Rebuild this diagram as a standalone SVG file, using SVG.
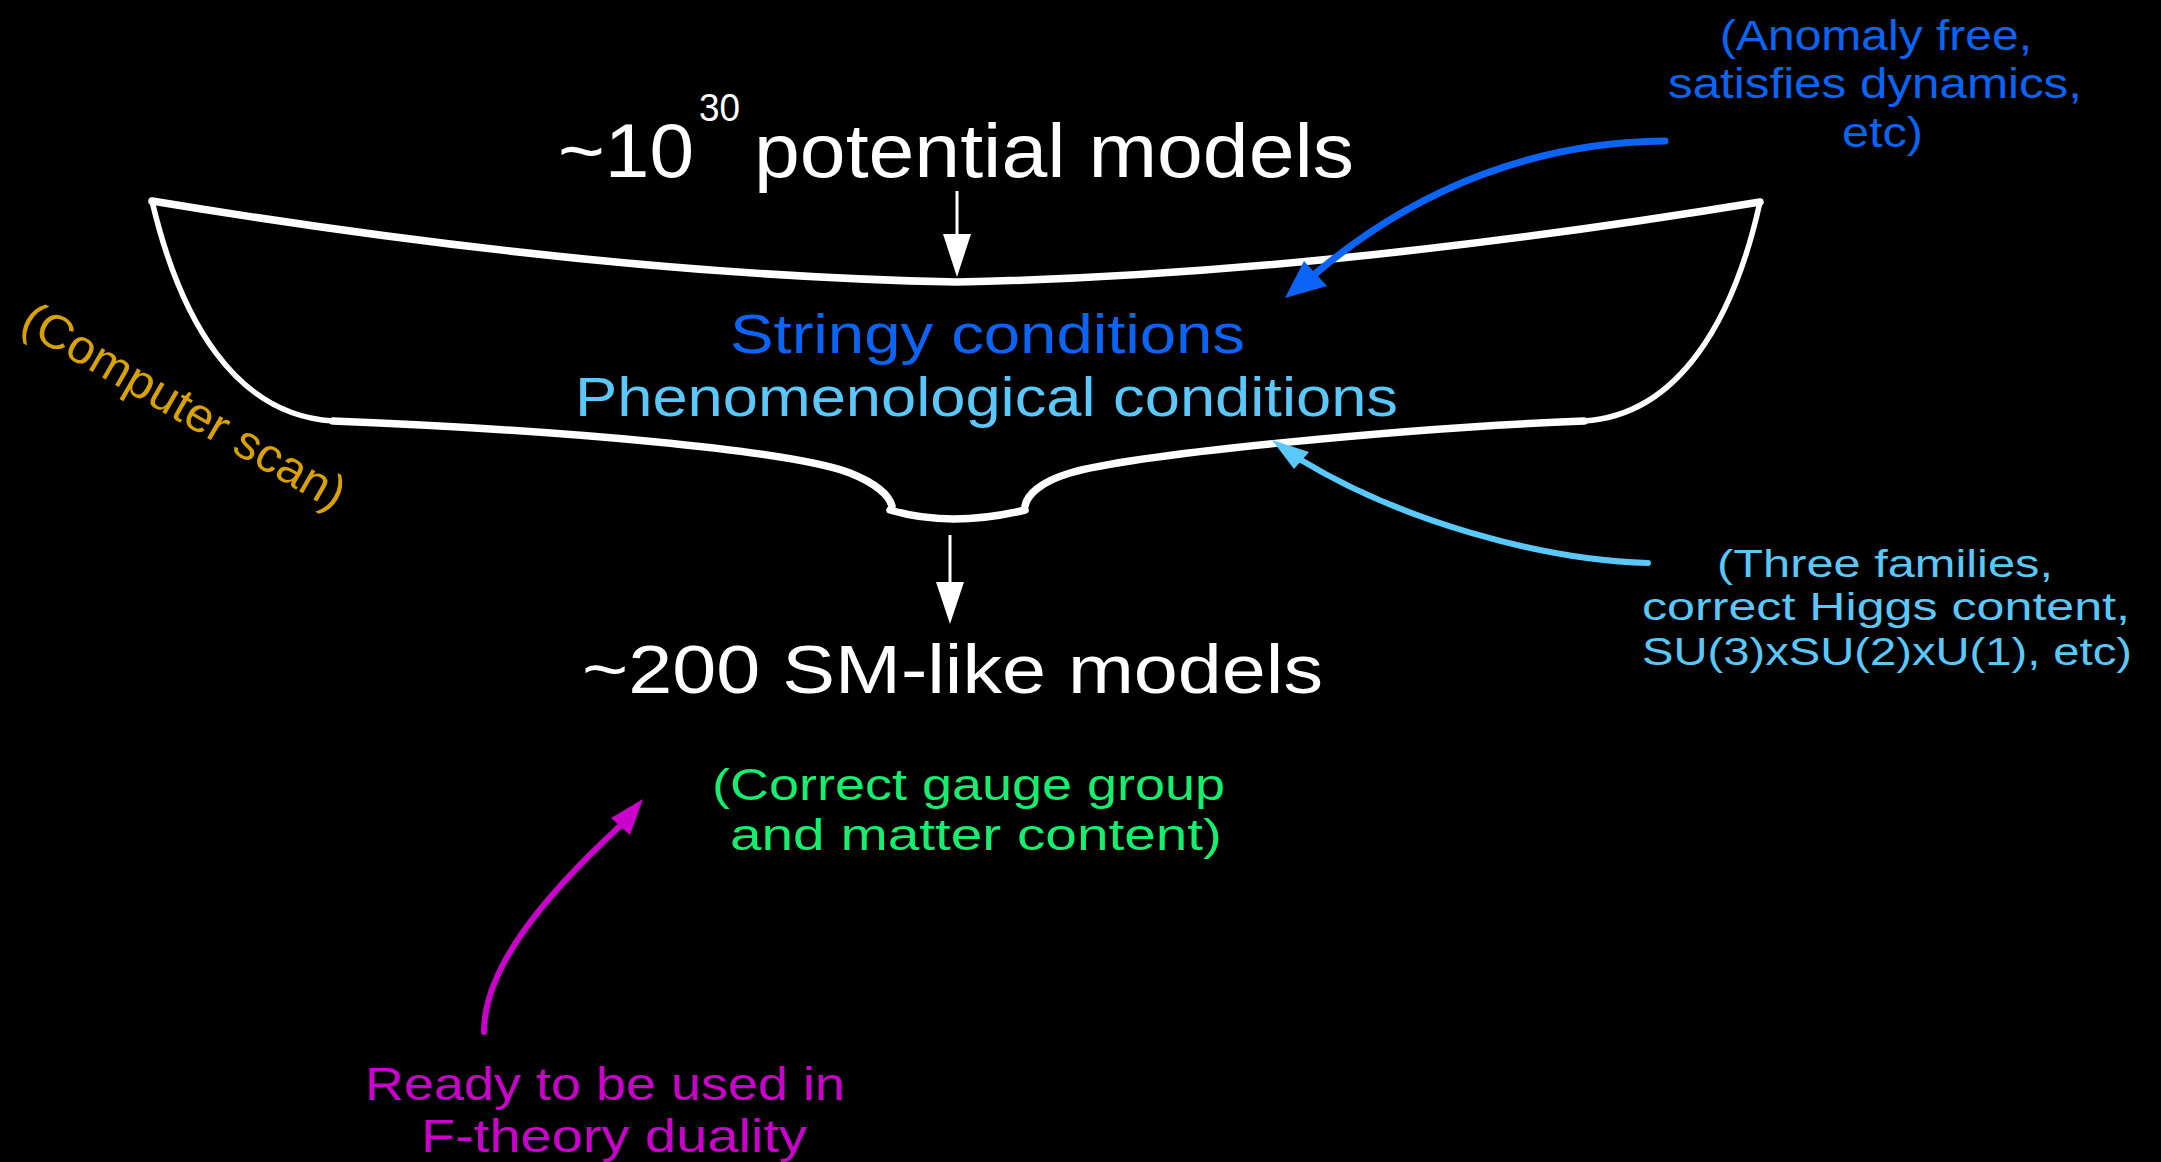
<svg xmlns="http://www.w3.org/2000/svg" width="2161" height="1162" viewBox="0 0 2161 1162">
  <style>
    text { font-family: "Liberation Sans", Arial, "DejaVu Sans", sans-serif; }
    .w { fill: #ffffff; }
    .blue { fill: #0a64f5; }
    .lblue { fill: #5ac8fa; }
    .green { fill: #14f06e; }
    .orange { fill: #d8a106; }
    .mag { fill: #cc00cc; }
    .bowl { fill: none; stroke: #ffffff; stroke-width: 7.5; stroke-linecap: round; stroke-linejoin: round; }
    .side { fill: none; stroke: #ffffff; stroke-width: 5.5; stroke-linecap: round; }
    .conn { fill: none; stroke-linecap: round; }
  </style>
  <rect x="0" y="0" width="2161" height="1162" fill="#000000"/>

  <g id="funnel">
    <path class="bowl" d="M152,201 Q600,275 957,282 Q1314,275 1760,202"/>
    <path class="side" d="M152,201 C180,320 235,415 333,421"/>
    <path class="side" d="M1760,202 C1734,320 1679,415 1584,421"/>
    <path class="bowl" d="M333,421 C560,430 790,450 850,473 C875,483 889,495 892,506"/>
    <path class="bowl" d="M890,510 Q950,528 1025,510"/>
    <path class="bowl" d="M1025,506 C1027,495 1040,482 1070,473 C1130,455 1400,428 1584,421"/>
  </g>

  <g id="top-label">
    <text class="w" x="558" y="177" font-size="76" textLength="136" lengthAdjust="spacingAndGlyphs">~10</text>
    <text class="w" x="699" y="121" font-size="38" textLength="41" lengthAdjust="spacingAndGlyphs">30</text>
    <text class="w" x="754" y="177" font-size="76" textLength="600" lengthAdjust="spacingAndGlyphs">potential models</text>
  </g>

  <g id="conditions">
    <text class="blue" x="730" y="353" font-size="56" textLength="515" lengthAdjust="spacingAndGlyphs">Stringy conditions</text>
    <text class="lblue" x="575" y="416" font-size="56" textLength="823" lengthAdjust="spacingAndGlyphs">Phenomenological conditions</text>
  </g>

  <g id="result-label">
    <text class="w" x="582" y="693" font-size="68" textLength="741" lengthAdjust="spacingAndGlyphs">~200 SM-like models</text>
  </g>

  <g id="result-note">
    <text class="green" x="712" y="800" font-size="44" textLength="513" lengthAdjust="spacingAndGlyphs">(Correct gauge group</text>
    <text class="green" x="730" y="850" font-size="44" textLength="492" lengthAdjust="spacingAndGlyphs">and matter content)</text>
  </g>

  <g id="ftheory-note">
    <text class="mag" x="365" y="1100" font-size="46" textLength="480" lengthAdjust="spacingAndGlyphs">Ready to be used in</text>
    <text class="mag" x="421" y="1152" font-size="46" textLength="386" lengthAdjust="spacingAndGlyphs">F-theory duality</text>
  </g>

  <g id="stringy-note">
    <text class="blue" x="1720" y="50" font-size="42" textLength="312" lengthAdjust="spacingAndGlyphs">(Anomaly free,</text>
    <text class="blue" x="1668" y="98" font-size="42" textLength="414" lengthAdjust="spacingAndGlyphs">satisfies dynamics,</text>
    <text class="blue" x="1842" y="147" font-size="42" textLength="81" lengthAdjust="spacingAndGlyphs">etc)</text>
  </g>

  <g id="pheno-note">
    <text class="lblue" x="1717" y="577" font-size="38" textLength="336" lengthAdjust="spacingAndGlyphs">(Three families,</text>
    <text class="lblue" x="1642" y="620" font-size="38" textLength="488" lengthAdjust="spacingAndGlyphs">correct Higgs content,</text>
    <text class="lblue" x="1642" y="665" font-size="38" textLength="490" lengthAdjust="spacingAndGlyphs">SU(3)xSU(2)xU(1), etc)</text>
  </g>

  <g id="scan-note">
    <text class="orange" transform="translate(176,420) rotate(30)" x="0" y="0" font-size="48" text-anchor="middle" textLength="365" lengthAdjust="spacingAndGlyphs">(Computer scan)</text>
  </g>

  <g id="connectors">
    <line x1="957" y1="191" x2="957" y2="236" stroke="#ffffff" stroke-width="3"/>
    <polygon points="943,234 971,234 957,277" fill="#ffffff"/>
    <line x1="950" y1="535" x2="950" y2="584" stroke="#ffffff" stroke-width="3"/>
    <polygon points="936,582 964,582 950,624" fill="#ffffff"/>
    <path class="conn" d="M1665,141 C1540,142 1420,185 1315,274" stroke="#0a64f5" stroke-width="7"/>
    <polygon points="1285,298 1304,261 1327,286" fill="#0a64f5"/>
    <path class="conn" d="M1648,563 C1540,560 1400,520 1301,460" stroke="#5ac8fa" stroke-width="6"/>
    <polygon points="1272,440 1309,452 1294,469" fill="#5ac8fa"/>
    <path class="conn" d="M484,1032 C484,970 540,900 620,826" stroke="#cc00cc" stroke-width="6"/>
    <polygon points="643,799 611,818 630,835" fill="#cc00cc"/>
  </g>
</svg>
